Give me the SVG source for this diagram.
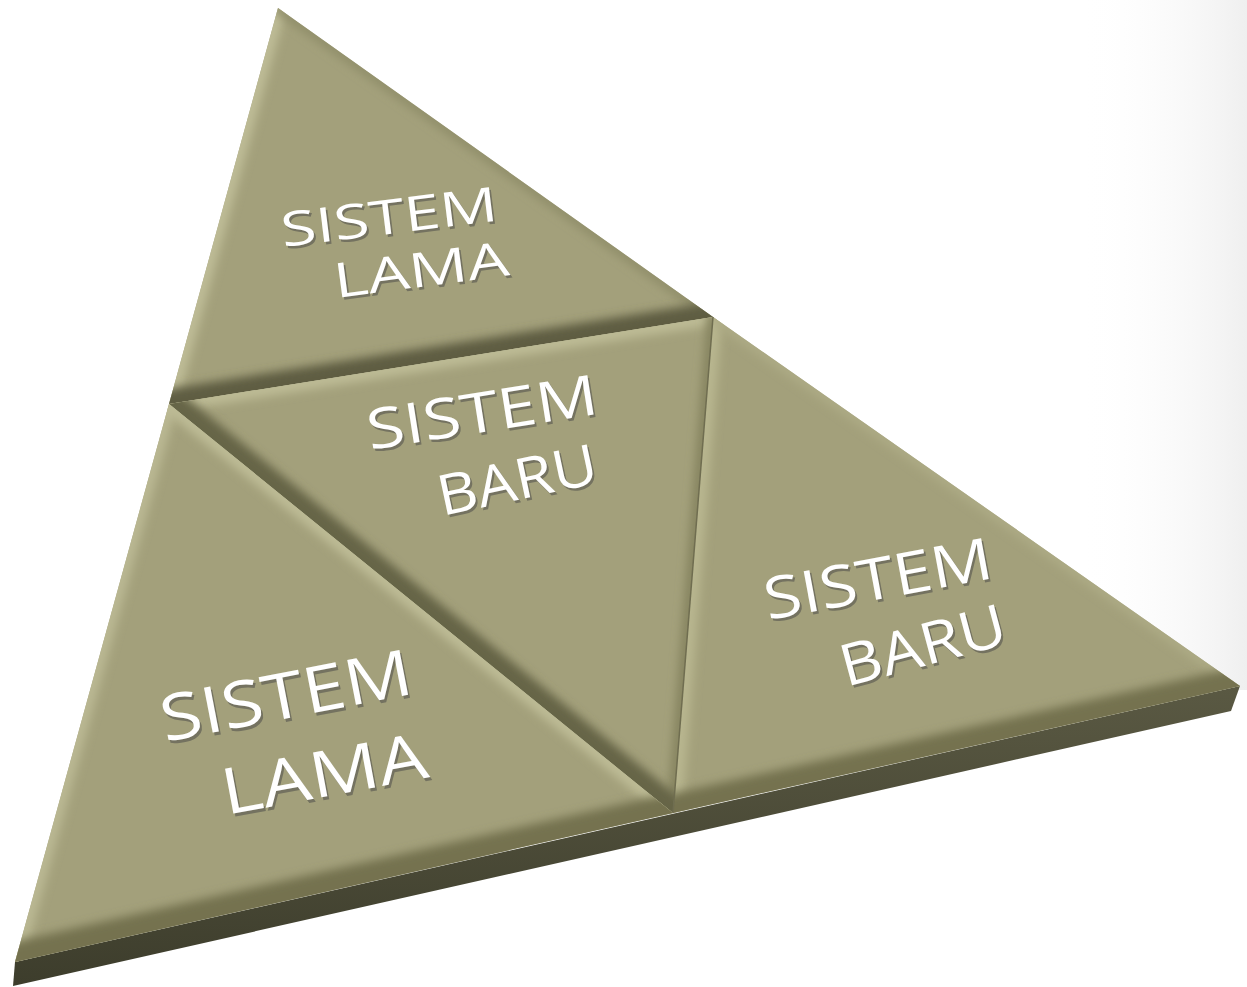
<svg xmlns="http://www.w3.org/2000/svg" width="1247" height="987" viewBox="0 0 1247 987">
  <style>
    .face { fill: #a3a07b; }
    .lbl { font-family: "Open Sans", "Liberation Sans", sans-serif; fill: #ffffff; }
    .sh { font-family: "Open Sans", "Liberation Sans", sans-serif; fill: #6c6b5c; opacity: 0.85; }
    .bev { fill: none; stroke-linecap: round; filter: url(#soft); }
  </style>
  <defs>
    <filter id="soft" filterUnits="userSpaceOnUse" x="0" y="0" width="1247" height="987">
      <feGaussianBlur stdDeviation="5"/>
    </filter>
    <linearGradient id="thick" x1="0" y1="0" x2="0" y2="1">
      <stop offset="0" stop-color="#5a5943"/>
      <stop offset="1" stop-color="#3d3d2c"/>
    </linearGradient>
    <linearGradient id="bgR" x1="0" y1="0" x2="1" y2="0">
      <stop offset="0" stop-color="#ffffff" stop-opacity="0"/>
      <stop offset="1" stop-color="#efefef"/>
    </linearGradient>
    <clipPath id="cTop"><polygon points="278,8 713,317 169,404"/></clipPath>
    <clipPath id="cMid"><polygon points="169,404 713,317 673,813"/></clipPath>
    <clipPath id="cBL"><polygon points="169,404 673,813 15,962"/></clipPath>
    <clipPath id="cR"><polygon points="713,317 1240,686 673,813"/></clipPath>
  </defs>

  <rect x="1080" y="0" width="167" height="690" fill="url(#bgR)"/>

  <!-- thickness -->
  <polygon points="15,962 1240,686 1231,711 13,986" fill="url(#thick)"/>

  <g id="tile-top">
    <polygon class="face" points="278,8 713,317 169,404"/>
    <g clip-path="url(#cTop)">
      <line class="bev" x1="278" y1="8" x2="169" y2="404" stroke="#bebc96" stroke-width="16"/>
      <line class="bev" x1="278" y1="8" x2="713" y2="317" stroke="#8f8d69" stroke-width="10"/>
      <line class="bev" x1="169" y1="404" x2="713" y2="317" stroke="#5e5d42" stroke-width="30"/>
    </g>
    <text class="sh" font-size="48" textLength="218" lengthAdjust="spacingAndGlyphs" transform="translate(285,249.5) rotate(-7)">SISTEM</text>
    <text class="lbl" font-size="48" textLength="218" lengthAdjust="spacingAndGlyphs" transform="translate(283,247) rotate(-7)">SISTEM</text>
    <text class="sh" font-size="48" textLength="176" lengthAdjust="spacingAndGlyphs" transform="translate(338,300.5) rotate(-7.5)">LAMA</text>
    <text class="lbl" font-size="48" textLength="176" lengthAdjust="spacingAndGlyphs" transform="translate(336,298) rotate(-7.5)">LAMA</text>
  </g>

  <g id="tile-mid">
    <polygon class="face" points="169,404 713,317 673,813"/>
    <g clip-path="url(#cMid)">
      <line class="bev" x1="169" y1="404" x2="713" y2="317" stroke="#bdbb95" stroke-width="16"/>
      <line class="bev" x1="713" y1="317" x2="673" y2="813" stroke="#85835f" stroke-width="12"/>
      <line class="bev" x1="169" y1="404" x2="673" y2="813" stroke="#666547" stroke-width="32"/>
    </g>
    <text class="sh" font-size="56" textLength="233" lengthAdjust="spacingAndGlyphs" transform="translate(372,452.5) rotate(-9)">SISTEM</text>
    <text class="lbl" font-size="56" textLength="233" lengthAdjust="spacingAndGlyphs" transform="translate(370,450) rotate(-9)">SISTEM</text>
    <text class="sh" font-size="56" textLength="162" lengthAdjust="spacingAndGlyphs" transform="translate(444,518.5) rotate(-12)">BARU</text>
    <text class="lbl" font-size="56" textLength="162" lengthAdjust="spacingAndGlyphs" transform="translate(442,516) rotate(-12)">BARU</text>
  </g>

  <g id="tile-bottom-left">
    <polygon class="face" points="169,404 673,813 15,962"/>
    <g clip-path="url(#cBL)">
      <line class="bev" x1="169" y1="404" x2="15" y2="962" stroke="#bab893" stroke-width="16"/>
      <line class="bev" x1="169" y1="404" x2="673" y2="813" stroke="#bdbb95" stroke-width="16"/>
      <line class="bev" x1="15" y1="962" x2="673" y2="813" stroke="#74724f" stroke-width="40"/>
    </g>
    <text class="sh" font-size="64" textLength="255" lengthAdjust="spacingAndGlyphs" transform="translate(167,745) rotate(-11)">SISTEM</text>
    <text class="lbl" font-size="64" textLength="255" lengthAdjust="spacingAndGlyphs" transform="translate(165,742) rotate(-11)">SISTEM</text>
    <text class="sh" font-size="64" textLength="208" lengthAdjust="spacingAndGlyphs" transform="translate(228,818) rotate(-10.5)">LAMA</text>
    <text class="lbl" font-size="64" textLength="208" lengthAdjust="spacingAndGlyphs" transform="translate(226,815) rotate(-10.5)">LAMA</text>
  </g>

  <g id="tile-right">
    <polygon class="face" points="713,317 1240,686 673,813"/>
    <g clip-path="url(#cR)">
      <line class="bev" x1="713" y1="317" x2="673" y2="813" stroke="#b8b68f" stroke-width="18"/>
      <line class="bev" x1="713" y1="317" x2="1240" y2="686" stroke="#aeac86" stroke-width="10"/>
      <line class="bev" x1="673" y1="813" x2="1240" y2="686" stroke="#74724f" stroke-width="38"/>
    </g>
    <text class="sh" font-size="58" textLength="231" lengthAdjust="spacingAndGlyphs" transform="translate(770,622.5) rotate(-10.5)">SISTEM</text>
    <text class="lbl" font-size="58" textLength="231" lengthAdjust="spacingAndGlyphs" transform="translate(768,620) rotate(-10.5)">SISTEM</text>
    <text class="sh" font-size="58" textLength="170" lengthAdjust="spacingAndGlyphs" transform="translate(848,689.5) rotate(-15)">BARU</text>
    <text class="lbl" font-size="58" textLength="170" lengthAdjust="spacingAndGlyphs" transform="translate(846,687) rotate(-15)">BARU</text>
  </g>

  <g id="connectors">
    <line x1="713" y1="317" x2="673" y2="813" stroke="#6f6d50" stroke-width="1.5"/>
  </g>
</svg>
